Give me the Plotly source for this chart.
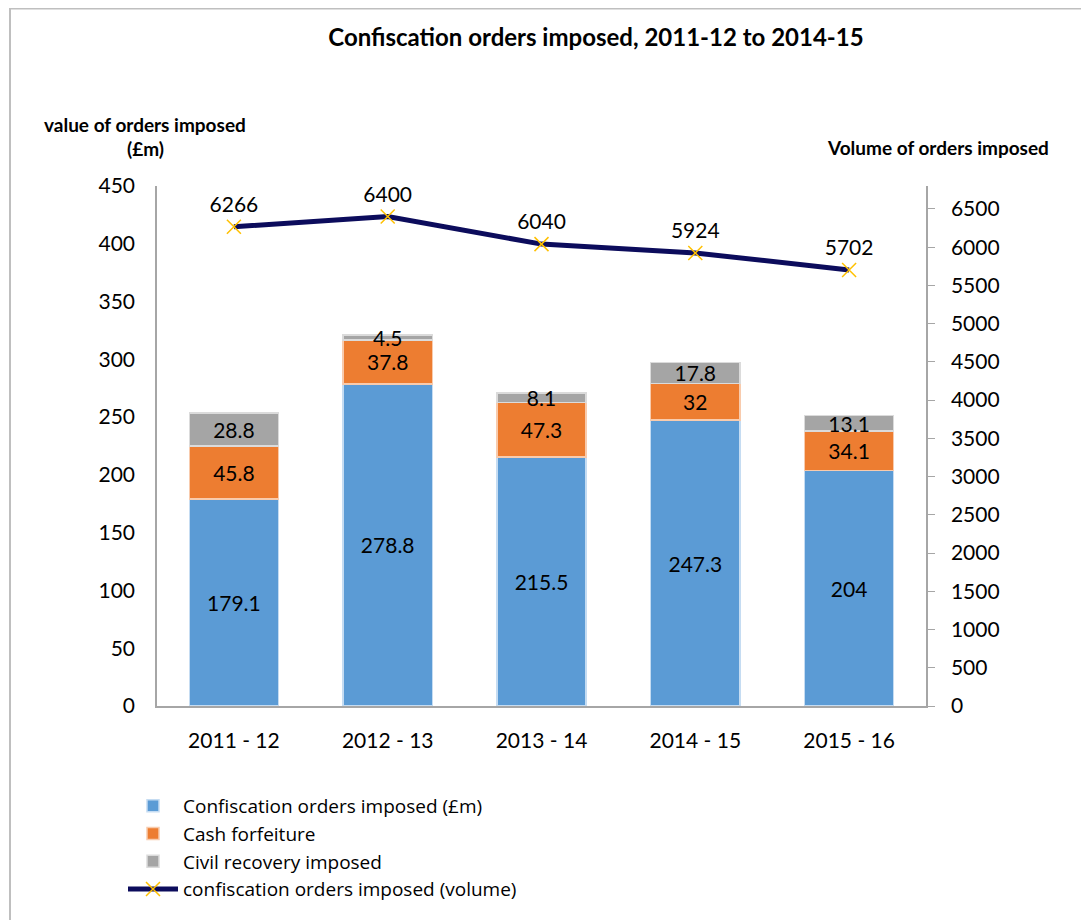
import plotly.graph_objects as go

# --- DATA ---
years = ["2011 - 12", "2012 - 13", "2013 - 14", "2014 - 15", "2015 - 16"]
confiscation_value = [179.1, 278.8, 215.5, 247.3, 204]
cash_forfeiture = [45.8, 37.8, 47.3, 32, 34.1]
civil_recovery = [28.8, 4.5, 8.1, 17.8, 13.1]
confiscation_volume = [6266, 6400, 6040, 5924, 5702]

FONT = "Lato, 'Open Sans', sans-serif"
LABEL_SIZE = 21

# plot area in page pixels (page has an 8px body margin around the figure)
PX_L, PX_R, PX_T, PX_B = 157, 926, 186, 706
W, H = 1081, 912


def px_x(px):
    return (px - PX_L) / (PX_R - PX_L)


def px_y(py):
    return (PX_B - py) / (PX_B - PX_T)


fig = go.Figure()

fig.add_trace(go.Bar(
    name="Confiscation orders imposed (£m)", x=years, y=confiscation_value,
    marker=dict(color="#5B9BD5", line=dict(color="#C5DCF2", width=1.5)),
    text=confiscation_value, texttemplate="%{text}", textposition="inside",
    insidetextanchor="middle", textfont=dict(size=LABEL_SIZE, color="black"),
))
fig.add_trace(go.Bar(
    name="Cash forfeiture", x=years, y=cash_forfeiture,
    marker=dict(color="#ED7D31", line=dict(color="#F8CBAD", width=1.5)),
    text=cash_forfeiture, texttemplate="%{text}", textposition="inside",
    insidetextanchor="middle", textfont=dict(size=LABEL_SIZE, color="black"),
))
fig.add_trace(go.Bar(
    name="Civil recovery imposed", x=years, y=civil_recovery,
    marker=dict(color="#A5A5A5", line=dict(color="#DBDBDB", width=1.5)),
    text=civil_recovery, texttemplate="%{text}", textposition="inside",
    insidetextanchor="middle", constraintext="none",
    textfont=dict(size=LABEL_SIZE, color="black"),
))
fig.add_trace(go.Scatter(
    name="confiscation orders imposed (volume)", x=years, y=confiscation_volume,
    yaxis="y2", mode="lines+markers+text",
    line=dict(color="#0C0C5C", width=5),
    marker=dict(symbol="x-thin", size=14, line=dict(color="#FFC000", width=1.5)),
    text=confiscation_volume, textposition="top center",
    textfont=dict(size=LABEL_SIZE, color="black"),
))

fig.update_layout(
    width=W, height=H,
    paper_bgcolor="white", plot_bgcolor="white",
    font=dict(family=FONT, size=LABEL_SIZE, color="black"),
    barmode="stack", bargap=0.42,
    uniformtext=dict(minsize=LABEL_SIZE, mode=False),
    margin=dict(l=PX_L - 8, r=W - (PX_R - 8), t=PX_T - 8, b=H - (PX_B - 8)),
    title=dict(text="<b>Confiscation orders imposed, 2011-12 to 2014-15</b>",
               x=(596 - 8) / W, xanchor="center", y=1 - (38 - 8) / H, yanchor="middle",
               font=dict(size=24, family=FONT)),
    xaxis=dict(showline=True, linecolor="#A6A6A6", linewidth=1.5,
               ticks="", ticklabelstandoff=15, tickfont=dict(size=LABEL_SIZE)),
    yaxis=dict(range=[0, 450], dtick=50, showgrid=False, zeroline=False,
               showline=True, linecolor="#A6A6A6", linewidth=1.5,
               ticks="", ticklabelstandoff=16, tickfont=dict(size=LABEL_SIZE)),
    yaxis2=dict(range=[0, 6800], tickvals=list(range(0, 7000, 500)),
                overlaying="y", side="right", showgrid=False, zeroline=False,
                showline=True, linecolor="#A6A6A6", linewidth=1.5,
                ticks="outside", ticklen=7, tickcolor="#A6A6A6",
                ticklabelstandoff=12, tickfont=dict(size=LABEL_SIZE)),
    legend=dict(orientation="v", x=px_x(123), xanchor="left", y=px_y(787), yanchor="top",
                traceorder="normal", font=dict(size=19, family="'Open Sans', sans-serif"),
                itemwidth=50, tracegroupgap=0, bgcolor="rgba(0,0,0,0)"),
    showlegend=True,
)

fig.add_annotation(text="<b>value of orders imposed</b>", xref="paper", yref="paper",
                   x=px_x(145), y=px_y(125), xanchor="center", yanchor="middle",
                   showarrow=False, font=dict(size=19))
fig.add_annotation(text="<b>(£m)</b>", xref="paper", yref="paper",
                   x=px_x(145), y=px_y(148), xanchor="center", yanchor="middle",
                   showarrow=False, font=dict(size=19))
fig.add_annotation(text="<b>Volume of orders imposed</b>", xref="paper", yref="paper",
                   x=px_x(938), y=px_y(147), xanchor="center", yanchor="middle",
                   showarrow=False, font=dict(size=19))

# chart-area border (top and left edges visible in the reference)
fig.add_shape(type="line", xref="paper", yref="paper",
              x0=px_x(9), x1=px_x(1100), y0=px_y(8.5), y1=px_y(8.5),
              line=dict(color="#BFBFBF", width=2))
fig.add_shape(type="line", xref="paper", yref="paper",
              x0=px_x(10), x1=px_x(10), y0=px_y(8.5), y1=px_y(930),
              line=dict(color="#BFBFBF", width=2))

fig.write_html("out.html")
